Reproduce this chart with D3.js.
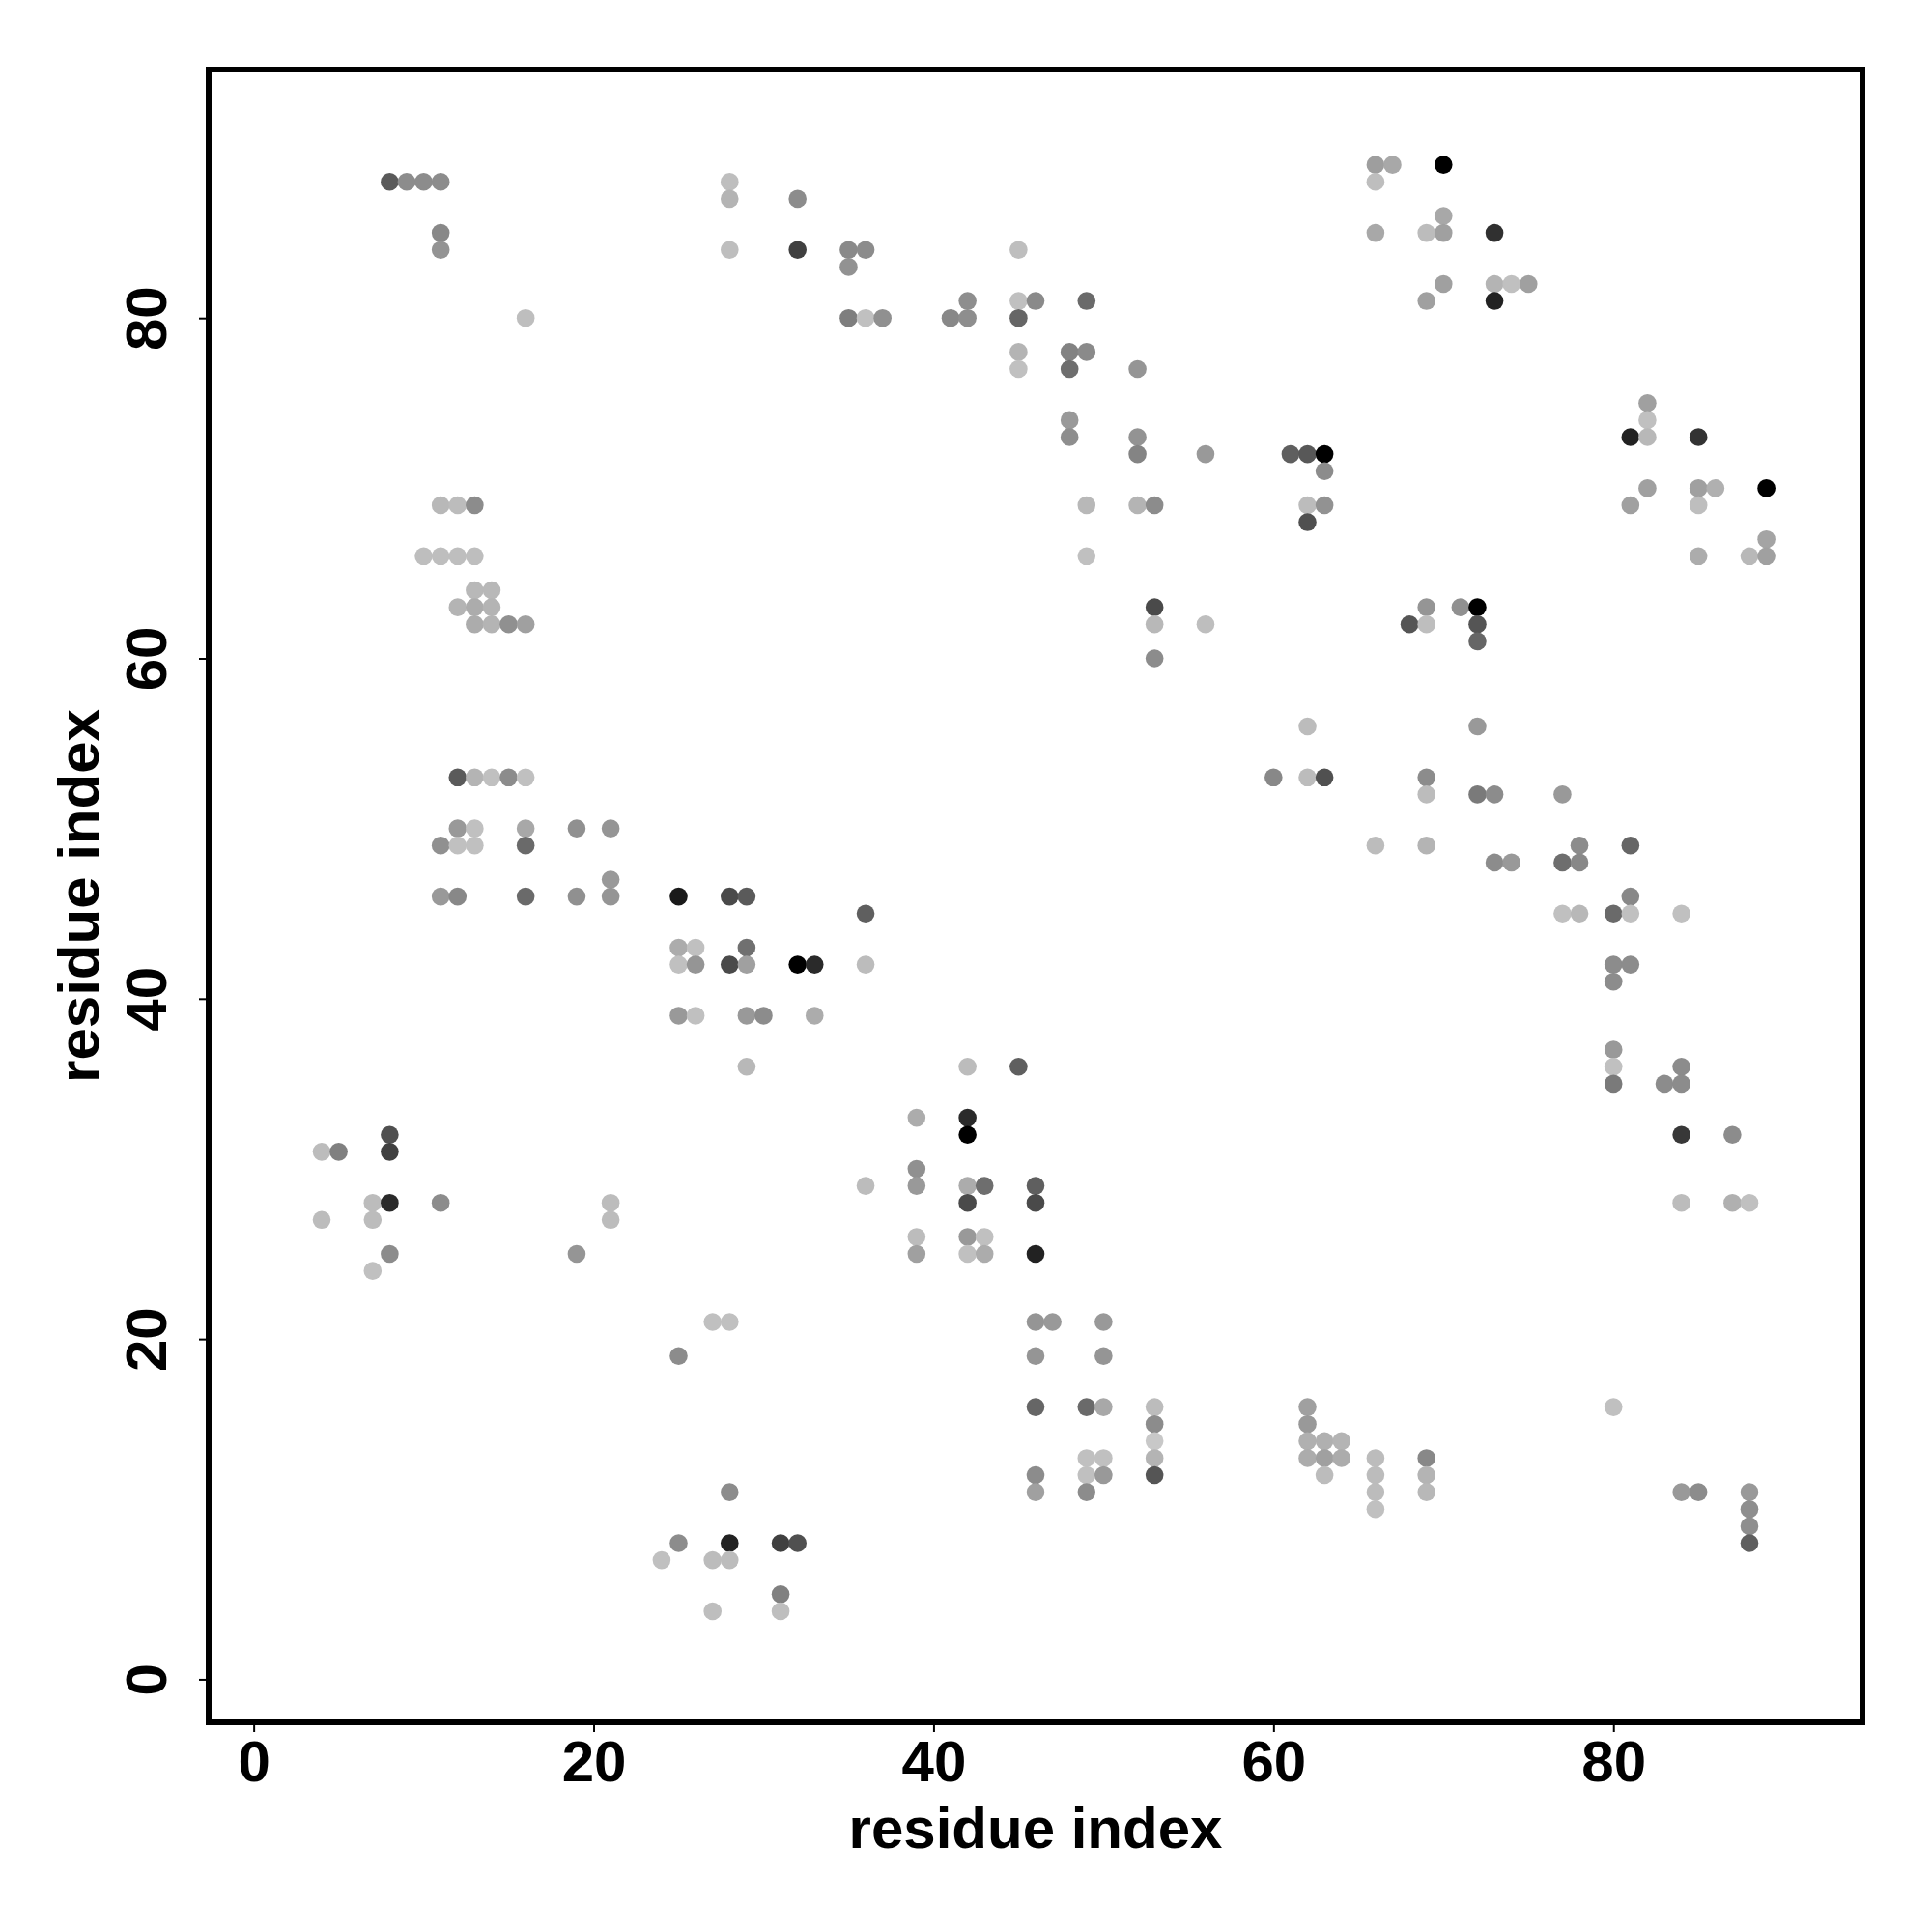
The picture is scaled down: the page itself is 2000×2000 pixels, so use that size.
<!DOCTYPE html>
<html>
<head>
<meta charset="utf-8">
<script src="https://cdn.jsdelivr.net/npm/d3@7"></script>
<style>
  html, body { margin: 0; padding: 0; background: #fff; }
  svg { display: block; }
  text { font-family: "Liberation Sans", Arial, Helvetica, sans-serif; font-weight: bold; }
</style>
</head>
<body>
<svg id="chart" width="2000" height="2000"></svg>
<script>
// ---- data: contact pairs (residue i, residue j) and grey shade (0 = black, 255 = white)
const residueI = [
  66,67,70,
  8,9,10,11,28,66,
  28,32,
  70,
  11,66,69,70,73,
  11,28,32,35,36,45,
  35,
  70,73,74,75,
  42,45,46,49,69,73,
  16,35,36,37,41,42,45,
  45,48,49,
  45,48,52,
  82,
  48,82,
  48,52,81,82,85,
  52,56,61,62,63,
  63,
  82,85,86,89,
  11,12,13,49,52,53,62,63,81,85,
  62,
  89,
  10,11,12,13,49,85,88,89,
  13,14,
  12,13,14,53,69,71,72,
  13,14,15,16,53,56,68,69,72,
  72,
  53,
  62,72,
  12,13,14,15,16,60,62,63,69,
  69,72,73,77,
  12,13,16,19,21,
  11,12,13,16,66,69,78,81,
  73,74,77,78,
  21,
  11,12,16,19,21,25,28,29,81,
  36,77,78,80,81,84,
  25,26,29,
  25,26,28,29,32,33,36,80,81,
  80,
  25,26,29,30,33,
  80,
  29,42,45,80,84,
  80,83,84,
  39,42,
  8,42,84,87,
  4,5,8,
  39,
  36,39,42,43,46,
  7,8,11,21,42,46,84,87,88,
  4,7,21,
  39,42,43,
  8,19,39,42,43,46,
  7,
  27,28,46,47,50,
  25,46,50,
  46,49,50,53,62,80,
  53,62,
  53,62,63,64,
  49,50,53,62,63,64,66,69,
  46,49,50,53,63,66,69,
  28,46,49,66,69,84,85,88,
  66,88,
  88,
  25,28,31,32,88,
  24,27,28,
  31,
  27,31
];
const residueJ = [
  89,89,89,
  88,88,88,88,88,88,
  87,87,
  86,
  85,85,85,85,85,
  84,84,84,84,84,84,
  83,
  82,82,82,82,
  81,81,81,81,81,81,
  80,80,80,80,80,80,80,
  78,78,78,
  77,77,77,
  75,
  74,74,
  73,73,73,73,73,
  72,72,72,72,72,
  71,
  70,70,70,70,
  69,69,69,69,69,69,69,69,69,69,
  68,
  67,
  66,66,66,66,66,66,66,66,
  64,64,
  63,63,63,63,63,63,63,
  62,62,62,62,62,62,62,62,62,
  61,
  60,
  56,56,
  53,53,53,53,53,53,53,53,53,
  52,52,52,52,
  50,50,50,50,50,
  49,49,49,49,49,49,49,49,
  48,48,48,48,
  47,
  46,46,46,46,46,46,46,46,46,
  45,45,45,45,45,45,
  43,43,43,
  42,42,42,42,42,42,42,42,42,
  41,
  39,39,39,39,39,
  37,
  36,36,36,36,36,
  35,35,35,
  33,33,
  32,32,32,32,
  31,31,31,
  30,
  29,29,29,29,29,
  28,28,28,28,28,28,28,28,28,
  27,27,27,
  26,26,26,
  25,25,25,25,25,25,
  24,
  21,21,21,21,21,
  19,19,19,
  16,16,16,16,16,16,
  15,15,
  14,14,14,14,
  13,13,13,13,13,13,13,13,
  12,12,12,12,12,12,12,
  11,11,11,11,11,11,11,11,
  10,10,
  9,
  8,8,8,8,8,
  7,7,7,
  5,
  4,4
];
const shade = [
  158,168,0,
  90,140,140,140,190,190,
  180,140,
  168,
  136,168,188,160,48,
  147,190,64,138,140,190,
  146,
  160,180,192,160,
  142,192,138,106,160,34,
  190,126,192,144,136,142,102,
  180,130,138,
  192,110,149,
  160,
  153,192,
  142,147,34,184,51,
  132,153,95,88,0,
  140,
  160,160,176,0,
  184,188,140,184,180,140,188,146,160,190,
  80,
  164,
  190,190,190,190,192,172,184,160,
  184,184,
  180,172,180,74,149,144,0,
  172,180,144,160,184,190,85,190,85,
  102,
  140,
  188,153,
  90,180,192,140,192,136,188,80,140,
  188,122,140,153,
  153,192,168,144,149,
  144,192,192,106,188,180,140,102,
  140,153,110,136,
  153,
  153,136,106,144,149,26,74,90,136,
  95,192,184,106,192,192,
  172,192,112,
  192,149,74,160,0,42,188,140,140,
  140,
  153,192,153,140,172,
  153,
  184,188,95,192,140,
  122,140,140,
  172,42,
  80,0,56,140,
  188,128,64,
  144,
  188,153,172,110,95,
  188,42,140,188,74,74,188,176,192,
  188,188,188,
  188,153,192,
  140,149,160,192,172,34,
  192,
  192,192,149,153,153,
  140,149,149,
  102,106,168,188,160,192,
  140,153,
  200,176,176,180,
  192,192,180,172,160,172,188,136,
  140,192,153,85,188,188,180,
  140,160,140,188,184,153,140,153,
  192,142,
  142,
  140,34,64,80,95,
  192,188,188,
  128,
  190,190
];
const xTicks = [0, 20, 40, 60, 80];
const yTicks = [0, 20, 40, 60, 80];
const xTitle = "residue index";
const yTitle = "residue index";

// ---- layout
const box = { left: 216, right: 1928, top: 72, bottom: 1783 };
const x = d3.scaleLinear().domain([-2.65, 94.65]).range([box.left, box.right]);
const y = d3.scaleLinear().domain([-2.53, 94.6]).range([box.bottom, box.top]);

const svg = d3.select("#chart");
const points = residueI.map((d, i) => ({ i: d, j: residueJ[i], g: shade[i] }));

// points
svg.append("g")
  .selectAll("circle")
  .data(points)
  .join("circle")
  .attr("cx", d => x(d.i))
  .attr("cy", d => y(d.j))
  .attr("r", 9.3)
  .attr("fill", d => d3.rgb(d.g, d.g, d.g).toString());

// frame
svg.append("rect")
  .attr("x", box.left).attr("y", box.top)
  .attr("width", box.right - box.left).attr("height", box.bottom - box.top)
  .attr("fill", "none").attr("stroke", "#000").attr("stroke-width", 6);

// x axis
const xAxis = d3.axisBottom(x).tickValues(xTicks).tickSize(10).tickPadding(8).tickFormat(d3.format("d"));
const gx = svg.append("g").attr("transform", `translate(0,${box.bottom})`).call(xAxis);
gx.select(".domain").remove();
gx.selectAll(".tick line").attr("stroke", "#000").attr("stroke-width", 2);
gx.selectAll(".tick text")
  .attr("y", 61).attr("dy", null)
  .attr("font-size", 60).attr("font-family", "Liberation Sans, Arial, sans-serif")
  .attr("font-weight", "bold").attr("fill", "#000");

// y axis
const yAxis = d3.axisLeft(y).tickValues(yTicks).tickSize(10).tickFormat(d3.format("d"));
const gy = svg.append("g").attr("transform", `translate(${box.left},0)`).call(yAxis);
gy.select(".domain").remove();
gy.selectAll(".tick line").attr("stroke", "#000").attr("stroke-width", 2);
gy.selectAll(".tick text")
  .attr("x", null).attr("dy", null)
  .attr("transform", "translate(-44,0) rotate(-90)")
  .attr("text-anchor", "middle")
  .attr("font-size", 60).attr("font-family", "Liberation Sans, Arial, sans-serif")
  .attr("font-weight", "bold").attr("fill", "#000");

// titles
svg.append("text")
  .attr("x", (box.left + box.right) / 2).attr("y", 1913)
  .attr("text-anchor", "middle").attr("font-size", 60).attr("fill", "#000")
  .text(xTitle);
svg.append("text")
  .attr("transform", `translate(102,${(box.top + box.bottom) / 2}) rotate(-90)`)
  .attr("text-anchor", "middle").attr("font-size", 60).attr("fill", "#000")
  .text(yTitle);
</script>
</body>
</html>
